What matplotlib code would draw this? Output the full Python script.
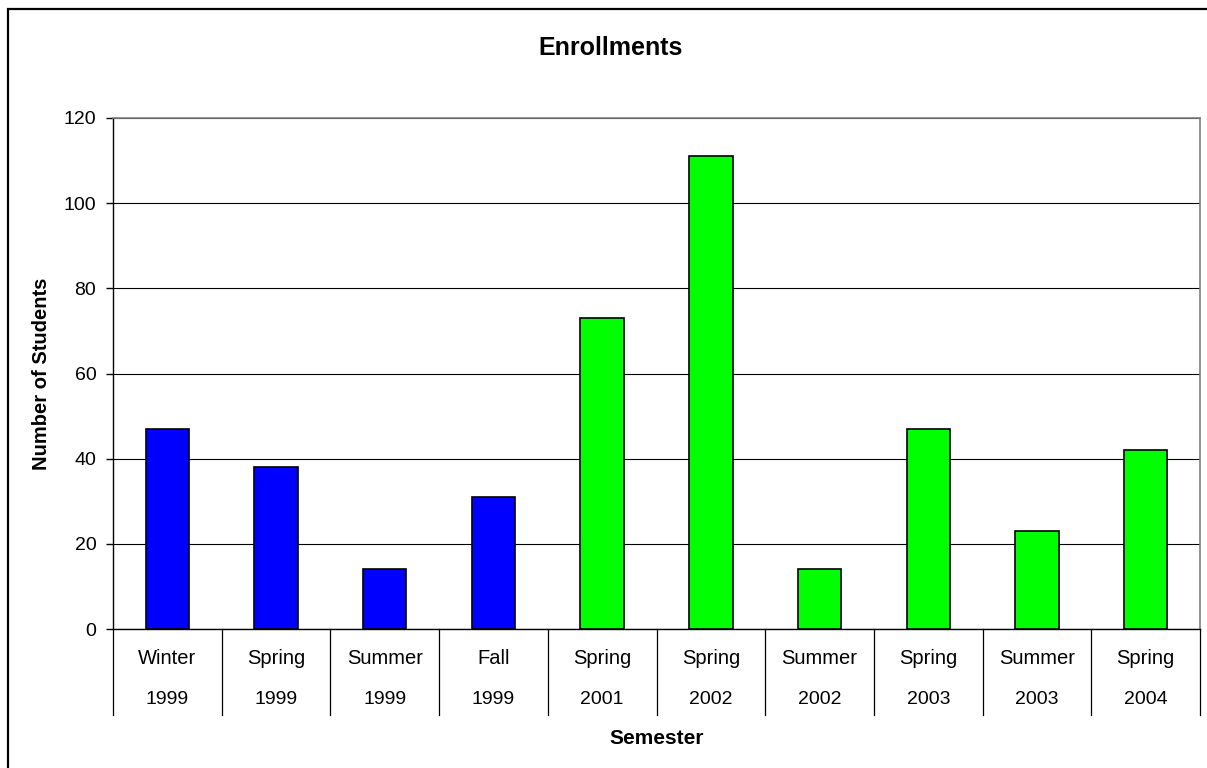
import matplotlib
matplotlib.use("Agg")
import matplotlib.pyplot as plt
import matplotlib.transforms as mtransforms
from matplotlib.patches import Rectangle

plt.rcParams['font.family'] = ['Liberation Sans', 'DejaVu Sans']

seasons = ["Winter", "Spring", "Summer", "Fall", "Spring", "Spring", "Summer", "Spring", "Summer", "Spring"]
years = ["1999", "1999", "1999", "1999", "2001", "2002", "2002", "2003", "2003", "2004"]
students = [47, 38, 14, 31, 73, 111, 14, 47, 23, 42]
bar_colors = ["#0000FF"] * 4 + ["#00FF00"] * 6
y_ticks = [0, 20, 40, 60, 80, 100, 120]

W, H = 1207, 768
fig = plt.figure(figsize=(W / 100, H / 100), dpi=100)
left, right, top, bottom = 113, 1200, 118, 629
ax = fig.add_axes([left / W, 1 - bottom / H, (right - left) / W, (bottom - top) / H])

# Figure border
fig.patches.append(Rectangle((7.5 / W, -0.05), 1.2, 1 - 8.5 / H + 0.05,
                             transform=fig.transFigure, fill=False,
                             edgecolor="black", linewidth=1.6, clip_on=False))

n = len(students)
x = list(range(n))
ax.bar(x, students, width=0.4, color=bar_colors, edgecolor="black", linewidth=1.2, zorder=3)

ax.set_xlim(-0.5, n - 0.5)
ax.set_ylim(0, 120)
ax.set_yticks(y_ticks)
ax.set_yticklabels([str(v) for v in y_ticks], fontsize=14)
ax.tick_params(axis="y", direction="out", length=5, width=1, pad=7, color="black")
ax.set_xticks([])
ax.grid(axis="y", color="black", linewidth=0.8, zorder=0)

for side in ["top", "right"]:
    ax.spines[side].set_color("#808080")
    ax.spines[side].set_linewidth(1.2)
ax.spines["left"].set_color("black")
ax.spines["bottom"].set_color("black")
ax.spines["left"].set_linewidth(1.0)
ax.spines["bottom"].set_linewidth(1.0)

trans = mtransforms.blended_transform_factory(ax.transData, ax.transAxes)
div_bottom = -(715 - 629) / (bottom - top)
for i in range(n + 1):
    ax.plot([i - 0.5, i - 0.5], [0, div_bottom], transform=trans, color="black",
            linewidth=0.9, clip_on=False)

row1 = -(658 - 629) / (bottom - top)
row2 = -(700 - 629) / (bottom - top)
for i in range(n):
    ax.text(i, row1, seasons[i], transform=trans, ha="center", va="center", fontsize=14.5)
    ax.text(i, row2, years[i], transform=trans, ha="center", va="center", fontsize=14)

fig.text(611 / W, 1 - 48 / H, "Enrollments", fontsize=18, fontweight="bold",
         ha="center", va="center")
ax.set_xlabel("Semester", fontsize=15, fontweight="bold", va="center")
ax.xaxis.set_label_coords(0.5, -(738 - 629) / (bottom - top))
ax.set_ylabel("Number of Students", fontsize=14.5, fontweight="bold", va="center")
ax.yaxis.set_label_coords(-(left - 42) / (right - left), 0.5)

fig.savefig("out.png", dpi=100)
